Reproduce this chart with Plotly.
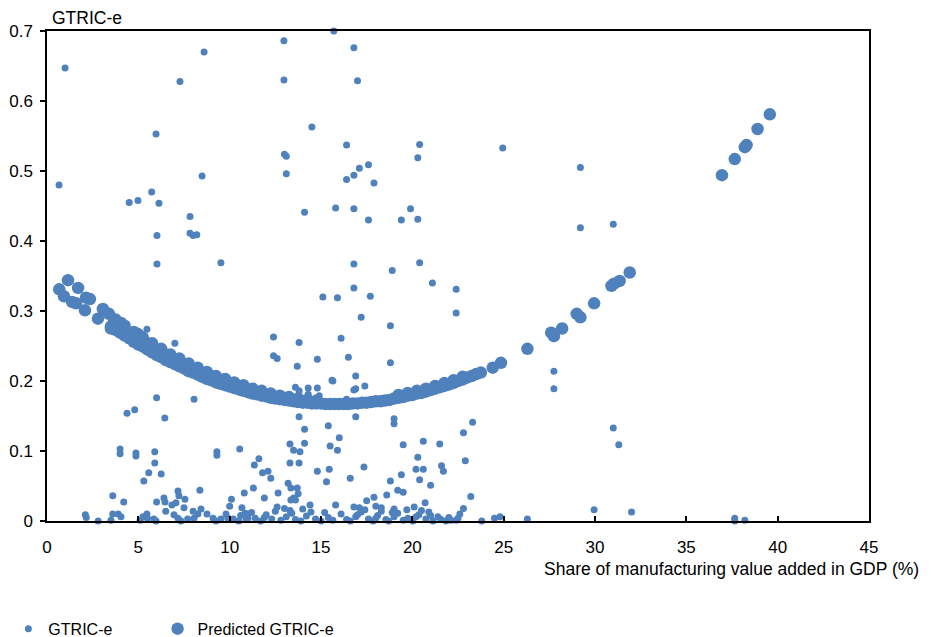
import plotly.graph_objects as go

# ---- Data (x = manufacturing share %, y = GTRIC-e) ----
gtric_points = [
    # upper region
    (0.66, 0.480), (0.99, 0.647), (7.28, 0.628), (8.6, 0.670), (12.97, 0.686), (12.97, 0.630),
    (5.97, 0.553), (8.49, 0.493), (13.0, 0.524), (13.1, 0.521), (13.1, 0.496), (5.73, 0.470),
    (4.5, 0.455), (4.98, 0.458), (6.13, 0.454), (7.83, 0.435), (7.83, 0.411), (8.0, 0.408),
    (8.2, 0.409), (6.02, 0.408), (6.02, 0.367), (9.52, 0.369), (14.1, 0.441), (14.5, 0.563),
    (15.7, 0.700), (16.8, 0.676), (17.0, 0.629), (16.4, 0.537), (20.4, 0.538), (20.3, 0.519),
    (24.95, 0.533), (29.2, 0.505), (17.1, 0.504), (17.6, 0.509), (16.8, 0.494), (16.4, 0.488),
    (17.9, 0.483), (15.8, 0.447), (16.8, 0.446), (19.9, 0.446), (17.6, 0.430), (19.4, 0.430),
    (20.3, 0.431), (29.2, 0.419), (31.0, 0.424), (16.8, 0.367), (18.9, 0.358), (20.4, 0.369),
    # middle region
    (21.1, 0.340), (22.4, 0.331), (16.8, 0.333), (15.1, 0.320), (15.9, 0.319), (17.7, 0.321),
    (17.2, 0.291), (18.8, 0.279), (22.4, 0.297), (12.4, 0.263), (13.8, 0.255), (16.1, 0.261),
    (12.4, 0.236), (12.6, 0.232), (14.8, 0.231), (16.5, 0.234), (13.7, 0.221), (18.8, 0.226),
    (15.6, 0.201), (16.9, 0.207), (13.6, 0.191), (14.3, 0.190), (14.8, 0.190), (16.9, 0.189),
    (17.4, 0.193), (5.47, 0.274), (7.0, 0.254), (13.8, 0.186), (14.3, 0.181), (14.9, 0.179),
    (15.65, 0.200), (16.8, 0.187), (16.4, 0.174),
    (27.75, 0.214), (27.75, 0.189),
    # lower-middle region
    (4.38, 0.154), (4.8, 0.159), (6.0, 0.176), (8.05, 0.174), (6.45, 0.147),
    (4.0, 0.103), (4.0, 0.096), (4.87, 0.097), (4.87, 0.093), (5.9, 0.099), (5.9, 0.083),
    (5.57, 0.069), (5.3, 0.057), (6.25, 0.067), (9.3, 0.099), (9.3, 0.094), (10.55, 0.103),
    (11.6, 0.089), (11.35, 0.080), (11.8, 0.069), (12.1, 0.071), (12.25, 0.061),
    (13.3, 0.110), (13.5, 0.101), (13.85, 0.099), (14.1, 0.111), (13.3, 0.083), (13.8, 0.083),
    (14.8, 0.071), (13.8, 0.149), (14.1, 0.131), (15.4, 0.136), (16.9, 0.149), (19.0, 0.146),
    (19.0, 0.139), (15.5, 0.107), (15.9, 0.101), (16.0, 0.119), (19.5, 0.109), (20.6, 0.114),
    (21.5, 0.110), (23.3, 0.141), (22.8, 0.126), (22.9, 0.086), (31.0, 0.133), (31.3, 0.109),
    (15.45, 0.074), (15.3, 0.056), (16.6, 0.061), (17.35, 0.077), (19.4, 0.066), (18.8, 0.057),
    (20.3, 0.091), (20.2, 0.074), (20.6, 0.074), (20.4, 0.059), (21.0, 0.051), (21.6, 0.079),
    (21.7, 0.071),
    # lower region
    (13.2, 0.054), (13.35, 0.047), (13.7, 0.047), (13.75, 0.039), (13.5, 0.033), (13.35, 0.030),
    (13.6, 0.030), (3.6, 0.036), (4.2, 0.027), (8.37, 0.044), (7.17, 0.043), (10.8, 0.040),
    (11.3, 0.047), (12.65, 0.040), (10.1, 0.031), (11.9, 0.033), (18.6, 0.037), (19.2, 0.044),
    (19.5, 0.041), (17.9, 0.034), (17.5, 0.029), (15.8, 0.023), (14.4, 0.023), (16.8, 0.020),
    (17.1, 0.019), (20.7, 0.026), (20.1, 0.020), (19.0, 0.017), (18.0, 0.021), (18.3, 0.019),
    (23.2, 0.035), (22.8, 0.018),
    (6.0, 0.027), (6.4, 0.033), (6.46, 0.027), (6.5, 0.014), (6.84, 0.023), (6.95, 0.009),
    (7.06, 0.026), (7.22, 0.036), (7.5, 0.019), (7.55, 0.031), (7.17, 0.004), (7.33, 0.000),
    (7.7, 0.003), (8.0, 0.014), (8.05, 0.004), (8.26, 0.010), (8.43, 0.017), (8.76, 0.010),
    (9.09, 0.004), (9.25, 0.000), (9.52, 0.003), (9.8, 0.010), (9.9, 0.004), (10.0, 0.021),
    (10.2, 0.003), (10.5, 0.000), (10.67, 0.019), (10.84, 0.011), (11.0, 0.004),
    (2.1, 0.009), (2.15, 0.005), (2.8, 0.000), (3.5, 0.001), (3.6, 0.010), (3.9, 0.010),
    (4.05, 0.006), (5.1, 0.001), (5.25, 0.006), (5.47, 0.010), (5.5, 0.004), (5.85, 0.003),
    (5.97, 0.000),
    (10.6, 0.008), (10.9, 0.002), (11.2, 0.012), (11.4, 0.004), (11.7, 0.000), (12.0, 0.009),
    (12.3, 0.003), (12.5, 0.014), (12.8, 0.001), (13.1, 0.006), (13.4, 0.011), (13.6, 0.002),
    (13.9, 0.000), (14.2, 0.007), (14.45, 0.013), (14.7, 0.003), (15.0, 0.000), (15.4, 0.005),
    (15.65, 0.001), (16.1, 0.010), (16.4, 0.002), (16.6, 0.000), (16.9, 0.006), (17.2, 0.013),
    (17.6, 0.003), (17.85, 0.000), (18.1, 0.008), (18.3, 0.014), (18.55, 0.002), (18.7, 0.000),
    (19.0, 0.006), (19.2, 0.011), (19.5, 0.001), (19.76, 0.004), (20.03, 0.000), (20.36, 0.009),
    (20.74, 0.003), (20.9, 0.013), (21.13, 0.000), (21.4, 0.006), (21.57, 0.002), (21.84, 0.000),
    (22.0, 0.005), (11.0, 0.010), (11.9, 0.005), (12.6, 0.020), (13.0, 0.018), (13.3, 0.015),
    (14.0, 0.017), (15.2, 0.012), (17.0, 0.009), (17.4, 0.016), (18.0, 0.004), (18.9, 0.012),
    (19.7, 0.016), (20.2, 0.006), (20.5, 0.015), (21.0, 0.008),
    (22.6, 0.010), (22.5, 0.004), (22.1, 0.001), (22.4, 0.001), (23.8, 0.000), (24.5, 0.004),
    (24.8, 0.006), (26.3, 0.003), (29.95, 0.016), (32.0, 0.013), (37.65, 0.004), (37.65, 0.000),
    (38.2, 0.001),
]

predicted_points = [
    # scattered upper-left
    (0.67, 0.331), (0.93, 0.321), (1.15, 0.344), (1.37, 0.313), (1.59, 0.311), (1.7, 0.333),
    (2.08, 0.301), (2.13, 0.319), (2.35, 0.317), (2.79, 0.289), (3.06, 0.303), (3.39, 0.296),
    (3.5, 0.275), (3.67, 0.286), (4.05, 0.283), (4.7, 0.269), (4.98, 0.267),
    # dense band (lower edge)
    (3.5, 0.278), (3.75, 0.273), (4.0, 0.269), (4.25, 0.265), (4.5, 0.261), (4.75, 0.256),
    (5.0, 0.252), (5.25, 0.249), (5.5, 0.245), (5.75, 0.241), (6.0, 0.237), (6.25, 0.234),
    (6.5, 0.230), (6.75, 0.227), (7.0, 0.224), (7.25, 0.221), (7.5, 0.218), (7.75, 0.214),
    (8.0, 0.212), (8.25, 0.209), (8.5, 0.206), (8.75, 0.203), (9.0, 0.201), (9.25, 0.198),
    (9.5, 0.196), (9.75, 0.194), (10.0, 0.192), (10.25, 0.190), (10.5, 0.188), (10.75, 0.186),
    (11.0, 0.184), (11.25, 0.182), (11.5, 0.181), (11.75, 0.179), (12.0, 0.178), (12.25, 0.176),
    (12.5, 0.175), (12.75, 0.174), (13.0, 0.173), (13.25, 0.172), (13.5, 0.171), (13.75, 0.170),
    (14.0, 0.169), (14.25, 0.169), (14.5, 0.168), (14.75, 0.168), (15.0, 0.168), (15.25, 0.167),
    (15.5, 0.167), (15.75, 0.167), (16.0, 0.167), (16.25, 0.167), (16.5, 0.167), (16.75, 0.168),
    (17.0, 0.168), (17.25, 0.169), (17.5, 0.169), (17.75, 0.170), (18.0, 0.171), (18.25, 0.171),
    (18.5, 0.172), (18.75, 0.173), (19.0, 0.175), (19.25, 0.176), (19.5, 0.177), (19.75, 0.179),
    (20.0, 0.180), (20.25, 0.182), (20.5, 0.183), (20.75, 0.185), (21.0, 0.187), (21.25, 0.189),
    (21.5, 0.191), (21.75, 0.193), (22.0, 0.195), (22.25, 0.197), (22.5, 0.200), (22.75, 0.202),
    (23.0, 0.205), (23.25, 0.207), (23.5, 0.210),
    # dense band (upper edge)
    (3.75, 0.288), (4.25, 0.279), (4.75, 0.270), (5.25, 0.262), (5.75, 0.254), (6.25, 0.246),
    (6.75, 0.238), (7.25, 0.232), (7.75, 0.225), (8.25, 0.219), (8.75, 0.213), (9.25, 0.207),
    (9.75, 0.203), (10.25, 0.198), (10.75, 0.194), (11.25, 0.189), (11.75, 0.186), (12.25, 0.182),
    (12.75, 0.179), (13.25, 0.177), (13.75, 0.175), (14.25, 0.173), (14.75, 0.172),
    (19.25, 0.180), (19.75, 0.183), (20.25, 0.186), (20.75, 0.189), (21.25, 0.193),
    (21.75, 0.197), (22.25, 0.201), (22.75, 0.206),
    # right tail
    (23.75, 0.212), (24.4, 0.219), (24.85, 0.226), (26.3, 0.246), (27.6, 0.269), (27.75, 0.264),
    (28.2, 0.275), (29.0, 0.296), (29.2, 0.291), (29.95, 0.311), (30.9, 0.336), (31.05, 0.339),
    (31.35, 0.343), (31.9, 0.355), (36.95, 0.494), (37.65, 0.517), (38.2, 0.534), (38.3, 0.537),
    (38.9, 0.560), (39.57, 0.581),
]

x_ticks = [0, 5, 10, 15, 20, 25, 30, 35, 40, 45]
y_ticks = [0, 0.1, 0.2, 0.3, 0.4, 0.5, 0.6, 0.7]
y_tick_text = ["0", "0.1", "0.2", "0.3", "0.4", "0.5", "0.6", "0.7"]

series_names = ["GTRIC-e", "Predicted GTRIC-e"]
x_title = "Share of manufacturing value added in GDP (%)"
y_title = "GTRIC-e"

BLUE = "#4F81BD"
FONT = "Liberation Sans, Arial, sans-serif"

gx, gy = zip(*gtric_points)
px_, py_ = zip(*predicted_points)

fig = go.Figure()
fig.add_trace(go.Scatter(
    x=list(gx), y=list(gy), mode="markers", name=series_names[0], legend="legend",
    marker=dict(color=BLUE, size=7, line=dict(width=0)), cliponaxis=False,
))
fig.add_trace(go.Scatter(
    x=list(px_), y=list(py_), mode="markers", name=series_names[1], legend="legend2",
    marker=dict(color=BLUE, size=12.5, line=dict(width=0)), cliponaxis=False,
))

legend_style = dict(
    orientation="h", xanchor="left", y=-0.22, yanchor="middle",
    font=dict(size=16, color="black"), bgcolor="rgba(0,0,0,0)", itemsizing="trace",
)

fig.update_layout(
    width=931, height=637,
    margin=dict(l=39, r=70, t=23, b=124, autoexpand=False),
    paper_bgcolor="white", plot_bgcolor="white",
    font=dict(family=FONT, size=17, color="black"),
    showlegend=True,
    legend=dict(x=-0.047, **legend_style),
    legend2=dict(x=0.1345, **legend_style),
    xaxis=dict(
        range=[0, 45], tickvals=x_ticks, ticks="inside", ticklen=5, tickwidth=1.5,
        tickcolor="black", showline=True, linecolor="black", linewidth=1.5, mirror=True,
        showgrid=False, zeroline=False, ticklabelstandoff=10, automargin=False,
        tickfont=dict(size=17, color="black"),
    ),
    yaxis=dict(
        range=[0, 0.7], tickvals=y_ticks, ticktext=y_tick_text, ticks="outside", ticklen=5,
        tickwidth=1.5, tickcolor="black", showline=True, linecolor="black", linewidth=1.5,
        mirror=True, showgrid=False, zeroline=False, ticklabelstandoff=4, automargin=False,
        tickfont=dict(size=17, color="black"),
    ),
    annotations=[
        dict(text=y_title, xref="paper", yref="paper", x=0, y=1, xanchor="left",
             yanchor="middle", xshift=4, yshift=13, borderpad=0, showarrow=False,
             font=dict(size=17.5, color="black")),
        dict(text=x_title, xref="paper", yref="paper", x=1.0633, y=-0.098,
             xanchor="right", yanchor="middle", showarrow=False,
             font=dict(size=17.5, color="black")),
    ],
)

fig.write_html("out.html")
